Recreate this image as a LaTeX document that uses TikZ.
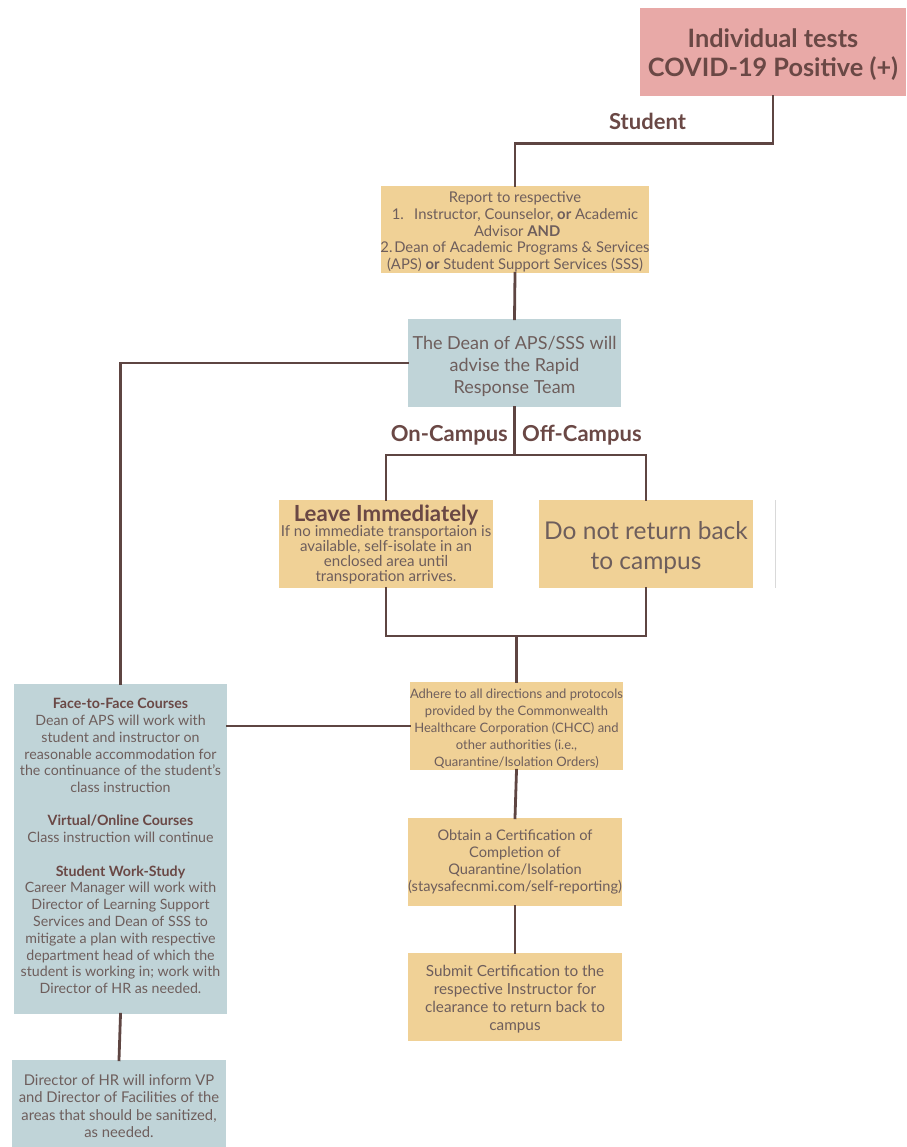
\documentclass[tikz,border=0pt]{standalone}
\usepackage{fontspec}
\setmainfont{Lato}
\definecolor{linebrown}{HTML}{5E4542}
\definecolor{headbrown}{HTML}{6A4845}
\definecolor{bodytxt}{HTML}{6E5E5C}
\definecolor{pinkfill}{HTML}{E8A9A7}
\definecolor{tanfill}{HTML}{F0D196}
\definecolor{bluefill}{HTML}{C0D4D8}
\newcommand{\fsz}[2]{\fontsize{#1}{#2}\selectfont}
\newcommand{\hd}[1]{{\bfseries\color{headbrown}#1}}
\begin{document}
\begin{tikzpicture}[x=1pt,y=-1pt,
  frame/.style={inner sep=0pt, anchor=center, minimum width=214pt, minimum height=88pt},
  pinkbox/.style={frame, fill=pinkfill, minimum width=266pt},
  tanbox/.style={frame, fill=tanfill},
  bluebox/.style={frame, fill=bluefill, minimum width=213pt},
  txt/.style={inner sep=0pt, align=center, text=bodytxt, anchor=center},
  conn/.style={draw=linebrown, line width=2.8pt, line cap=rect},
  branch/.style={font=\bfseries\fsz{22}{24}, text=headbrown, inner sep=0pt}
]
\useasboundingbox (0,0) rectangle (906,1147);

% box frames
\node[pinkbox] (top) at (773,52) {};
\node[tanbox, minimum width=268pt, minimum height=87pt] (report) at (515,229.5) {};
\node[bluebox] (dean) at (514.5,363) {};
\node[tanbox] (leave) at (386,544) {};
\node[tanbox] (donot) at (646,544) {};
\node[tanbox, minimum width=213pt] (adhere) at (516.5,726) {};
\node[tanbox] (obtain) at (515,862) {};
\node[tanbox] (submit) at (515,997) {};
\node[bluebox, minimum height=330pt] (left) at (120.5,849) {};
\node[bluebox, minimum width=214pt, minimum height=87pt] (hr) at (119,1103.5) {};

% box texts
\node[txt, text=headbrown, font=\bfseries\fsz{25.3}{29}, yshift=-3pt] (topT) at (top)
  {Individual tests\\COVID-19 Positive (+)};
\node[txt, font=\fsz{14.8}{16.6}, yshift=-2.5pt] (reportT) at (report)
  {Report to respective\\
   1.\hspace{0.7em}Instructor, Counselor, \textbf{or} Academic\\
   \hspace*{0.3em}Advisor \textbf{AND}\\
   2.\hspace{0.12em}Dean of Academic Programs \& Services\\
   (APS) \textbf{or} Student Support Services (SSS)};
\node[txt, font=\fsz{18}{22}, yshift=-3pt] (deanT) at (dean)
  {The Dean of APS/SSS will\\advise the Rapid\\Response Team};
\node[txt, font=\fsz{15.1}{15}, yshift=-1pt] (leaveT) at (leave)
  {{\bfseries\color{headbrown}\fsz{22.2}{20}Leave Immediately}\\
   If no immediate transportaion is\\available, self-isolate in an\\enclosed area until\\transporation arrives.};
\node[txt, font=\fsz{24.5}{30}, yshift=-4pt] (donotT) at (donot)
  {Do not return back\\to campus};
\node[txt, font=\fsz{13}{17}, yshift=-3pt] (adhereT) at (adhere)
  {Adhere to all directions and protocols\\provided by the Commonwealth\\Healthcare Corporation (CHCC) and\\other authorities (i.e.,\\Quarantine/Isolation Orders)};
\node[txt, font=\fsz{14.6}{17}] (obtainT) at (obtain)
  {Obtain a Certification of\\Completion of\\Quarantine/Isolation\\(staysafecnmi.com/self-reporting)};
\node[txt, font=\fsz{15.3}{18}, yshift=-2pt] (submitT) at (submit)
  {Submit Certification to the\\respective Instructor for\\clearance to return back to\\campus};
\node[txt, font=\fsz{14.2}{16.8}, yshift=3pt] (leftT) at (left)
  {\hd{Face-to-Face Courses}\\
   Dean of APS will work with\\student and instructor on\\reasonable accommodation for\\the continuance of the student's\\class instruction\\[16pt]
   \hd{Virtual/Online Courses}\\
   Class instruction will continue\\[17pt]
   \hd{Student Work-Study}\\
   Career Manager will work with\\Director of Learning Support\\Services and Dean of SSS to\\mitigate a plan with respective\\department head of which the\\student is working in; work with\\Director of HR as needed.};
\node[txt, font=\fsz{14.8}{17.5}, yshift=-2.5pt] (hrT) at (hr)
  {Director of HR will inform VP\\and Director of Facilities of the\\areas that should be sanitized,\\as needed.};

% branch labels
\node[branch] (student) at (647.5,121) {Student};
\node[branch, anchor=east] (oncampus) at (508,435) {On-Campus};
\node[branch, anchor=west] (offcampus) at (522,435) {Off-Campus};

% connectors
\coordinate (split) at (514.5,455);
\coordinate (merge) at (516.5,636);
\draw[conn] (top.south) -- ++(0,47) -| (report.north);
\draw[conn] (report.south) -- (dean.north);
\draw[conn] (dean.west) -| (left.north);
\draw[conn] (dean.south) -- (split);
\draw[conn] (leave.north) |- (split) -| (donot.north);
\draw[conn] (leave.south) |- (merge) -| (donot.south);
\draw[conn] (merge) -- (adhere.north);
\draw[conn] (adhere.south) -- (obtain.north);
\draw[conn] (obtain.south) -- (submit.north);
\draw[conn] (left.east |- adhere.west) -- (adhere.west);
\draw[conn] (left.south) -- (hr.north);

% faint rule beside the right-hand box
\draw[black!15, line width=1pt] (775,500) -- (775,588);
\end{tikzpicture}
\end{document}
